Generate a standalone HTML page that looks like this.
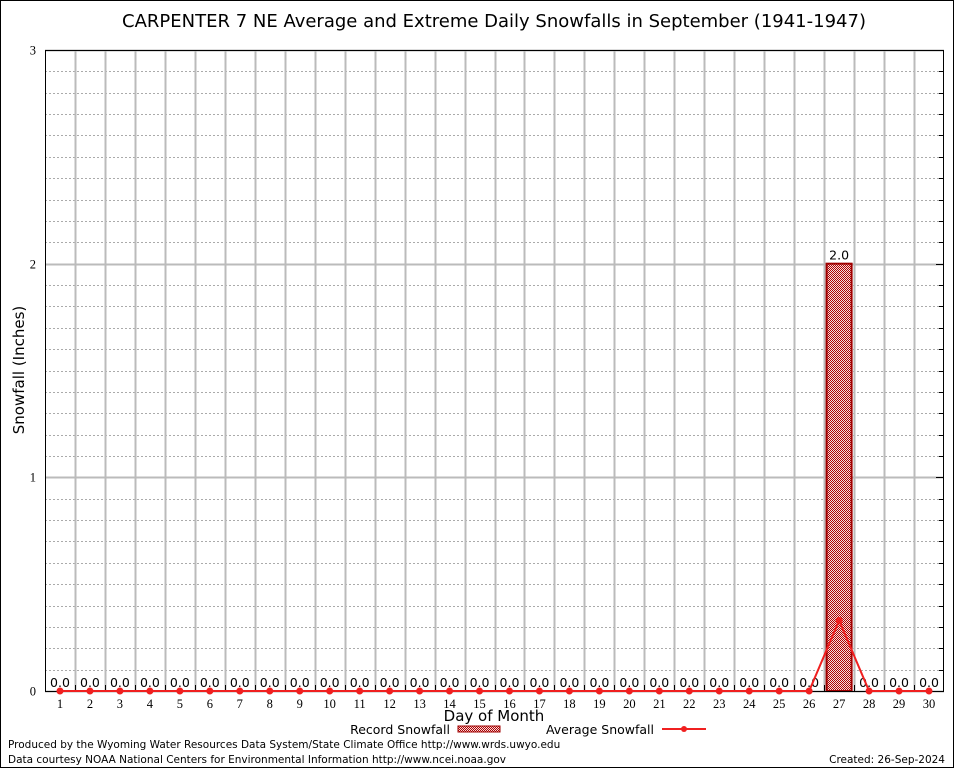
<!DOCTYPE html>
<html><head><meta charset="utf-8"><style>
body{margin:0;background:#fff}
svg{display:block}
text{font-family:"DejaVu Sans","Liberation Sans",sans-serif}
</style></head><body>
<svg id="c" width="954" height="768" xmlns="http://www.w3.org/2000/svg">
<defs><pattern id="hatch" width="2" height="2" patternUnits="userSpaceOnUse"><rect width="2" height="2" fill="#f4dede"/><rect width="1" height="1" fill="#b00000"/><rect x="1" y="1" width="1" height="1" fill="#b00000"/></pattern></defs>
<rect x="0.5" y="0.5" width="953" height="767" fill="#fff" stroke="#000"/>
<text x="494" y="27" font-size="18" text-anchor="middle">CARPENTER 7 NE Average and Extreme Daily Snowfalls in September (1941-1947)</text>
<text transform="translate(24,370) rotate(-90)" font-size="15" text-anchor="middle">Snowfall (Inches)</text>
<text x="494" y="721" font-size="15" text-anchor="middle">Day of Month</text>
<g>
<text x="450" y="734" font-size="12.5" text-anchor="end">Record Snowfall</text>
<rect x="458" y="726" width="42" height="6" fill="url(#hatch)" stroke="#a00000"/>
<text x="654" y="734" font-size="12.5" text-anchor="end">Average Snowfall</text>
<line x1="662" y1="729" x2="706" y2="729" stroke="#f02020" stroke-width="2"/>
<circle cx="684" cy="729" r="3" fill="#f02020"/>
</g>
<text x="8" y="748" style="font-size:10.5px">Produced by the Wyoming Water Resources Data System/State Climate Office http://www.wrds.uwyo.edu</text>
<text x="8" y="763" style="font-size:10.5px">Data courtesy NOAA National Centers for Environmental Information http://www.ncei.noaa.gov</text>
<text x="945" y="763" style="font-size:10.5px" text-anchor="end">Created: 26-Sep-2024</text>
<g id="plot"></g>
</svg>
<script>
const days=[1,2,3,4,5,6,7,8,9,10,11,12,13,14,15,16,17,18,19,20,21,22,23,24,25,26,27,28,29,30];
const recordSnow=[0,0,0,0,0,0,0,0,0,0,0,0,0,0,0,0,0,0,0,0,0,0,0,0,0,0,2.0,0,0,0];
const avgSnow=[0,0,0,0,0,0,0,0,0,0,0,0,0,0,0,0,0,0,0,0,0,0,0,0,0,0,0.33,0,0,0];
const yTicks=[0,1,2,3];

const L=45,R=944,T=50,B=691,ymax=3;
const x=d=>L+(d-0.5)*(R-L)/30;
const y=v=>B-v*(B-T)/ymax;
const g=document.getElementById('plot');
const NS='http://www.w3.org/2000/svg';
function mk(t,a,p){const e=document.createElementNS(NS,t);for(const k in a)e.setAttribute(k,a[k]);(p||g).appendChild(e);return e;}
const serif='font-family:"Liberation Serif",serif;font-size:12.5px';

for(let i=1;i<30;i++){if(i%10===0)continue;const yy=Math.round(y(i/10))+0.5;
const e=mk('line',{x1:L,x2:R,y1:yy,y2:yy,stroke:'#aaa','stroke-dasharray':'2,2'});


const t=mk('line',{x1:R-5,x2:R,y1:yy,y2:yy,stroke:'#000'});

}
yTicks.forEach(v=>{const yy=Math.round(y(v))+0.5;
const e=mk('line',{x1:L,x2:R,y1:yy,y2:yy,stroke:'#bbb','stroke-width':2});


const tk=mk('line',{x1:R-8,x2:R,y1:yy,y2:yy,stroke:'#000'});


const tx=mk('text',{x:L-9,y:yy+4,'text-anchor':'end',style:serif});tx.textContent=v;

});
for(let i=1;i<30;i++){const xx=Math.round(x(i+0.5))+0.5;
const e=mk('line',{x1:xx,x2:xx,y1:T,y2:B,stroke:'#bbb','stroke-width':2});


const t=mk('line',{x1:xx,x2:xx,y1:B-6,y2:B,stroke:'#000'});

}
days.forEach((d,i)=>{const v=recordSnow[i];
if(v>0){const b=mk('rect',{x:x(d)-12.5,y:y(v),width:25,height:B-y(v),fill:'url(#hatch)',stroke:'#a00000','stroke-width':2});

}
const t=mk('text',{x:x(d),y:y(v)-4,'font-size':12.5,'text-anchor':'middle'});t.textContent=v.toFixed(1);


const xl=mk('text',{x:x(d),y:B+17,'text-anchor':'middle',style:serif});xl.textContent=d;

});
const fr=mk('rect',{x:L+0.5,y:T+0.5,width:R-L-1,height:B-T,fill:'none',stroke:'#000'});


const pl=mk('polyline',{points:days.map((d,i)=>x(d)+','+y(avgSnow[i])).join(' '),fill:'none',stroke:'#f02020','stroke-width':2});


days.forEach((d,i)=>{const c=mk('circle',{cx:x(d),cy:y(avgSnow[i]),r:3.5,fill:'#f02020'});

});
</script>
</body></html>
